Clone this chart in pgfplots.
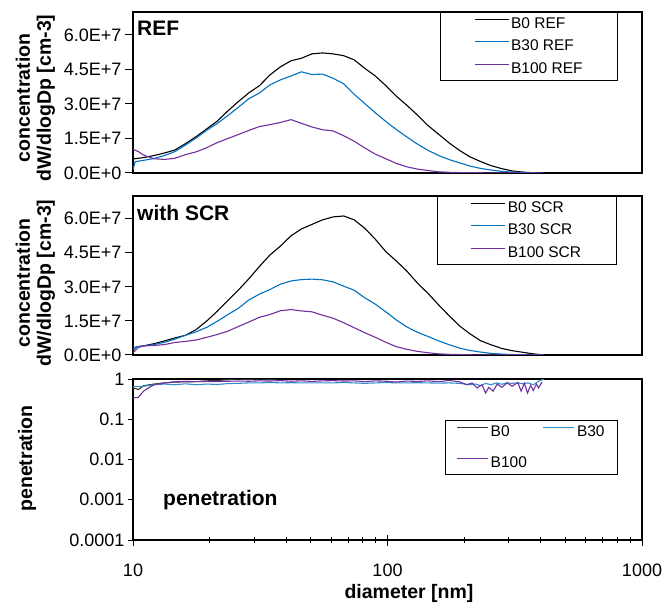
\documentclass[border=0pt]{standalone}
\usepackage{pgfplots}
\pgfplotsset{compat=1.18}
\usepackage{fontspec}
\setmainfont{Liberation Sans}
\definecolor{cB30}{RGB}{0,112,192}
\definecolor{cB100}{RGB}{112,48,160}
\newcommand\tickfont{\fontsize{18}{20}\selectfont}
\newcommand\legfont{\fontsize{15.5}{18}\selectfont}
\newcommand\labfont{\fontsize{19.5}{21}\selectfont\bfseries}
\newcommand\titfont{\fontsize{21}{24}\selectfont\bfseries}
\begin{document}
\begin{tikzpicture}
\path[use as bounding box] (0pt,0pt) rectangle (667pt,603pt);
% ---------------- REF panel
\begin{axis}[scale only axis, width=509pt, height=161pt, anchor=south west, at={(133pt,430pt)},
  xmode=log, xmin=10, xmax=1000, ymin=0, ymax=7e7,
  axis line style={line width=1.1pt},
  tick label style={font=\tickfont}, tick style={black, line width=1pt},
  ytick={0,1.5e7,3e7,4.5e7,6e7}, yticklabels={0.0E+0,1.5E+7,3.0E+7,4.5E+7,6.0E+7},
  scaled y ticks=false, xmajorticks=false, xminorticks=false, yminorticks=false,
  ytick pos=left, tick align=outside, major tick length=8pt,
  legend cell align=left,
  legend style={at={(0.953,1)}, anchor=north east, draw=black, line width=1pt, font=\legfont,
    inner xsep=33pt, inner ysep=2.5pt, row sep=4pt,
    nodes={inner sep=2pt, text height=11.5pt, text depth=3pt}},
  legend image code/.code={\draw[#1] (0pt,5pt) -- (34pt,5pt);}]
\addplot[black, line width=1.1pt] coordinates {(10,0.61e7)(11,0.67e7)(12.1,0.76e7)(13.3,0.87e7)(14.6,1.00e7)(16.1,1.28e7)(17.7,1.58e7)(19.5,1.92e7)(21.4,2.25e7)(23.6,2.70e7)(25.9,3.10e7)(28.5,3.48e7)(31.4,3.80e7)(34.5,4.26e7)(38,4.62e7)(41.8,4.88e7)(45.9,4.99e7)(50.5,5.18e7)(55.6,5.22e7)(61.1,5.18e7)(67.3,5.10e7)(74,4.92e7)(81.4,4.55e7)(89.5,4.22e7)(98.5,3.80e7)(108,3.35e7)(119,2.95e7)(131,2.52e7)(144,2.07e7)(159,1.68e7)(175,1.30e7)(192,0.98e7)(211,0.70e7)(232,0.50e7)(255,0.32e7)(281,0.19e7)(309,0.09e7)(340,0.04e7)(374,0.01e7)(411,0)};
\addlegendentry{B0 REF}
\addplot[cB30, line width=1.1pt] coordinates {(10,0.15e7)(10.2,0.49e7)(11,0.55e7)(12.1,0.63e7)(13.3,0.76e7)(14.6,0.93e7)(16.1,1.22e7)(17.7,1.52e7)(19.5,1.86e7)(21.4,2.15e7)(23.6,2.50e7)(25.9,2.85e7)(28.5,3.23e7)(31.4,3.48e7)(34.5,3.83e7)(38,4.05e7)(41.8,4.22e7)(45.9,4.40e7)(50.5,4.28e7)(55.6,4.30e7)(61.1,4.12e7)(67.3,3.88e7)(74,3.42e7)(81.4,3.02e7)(89.5,2.62e7)(98.5,2.24e7)(108,1.90e7)(119,1.57e7)(131,1.26e7)(144,0.99e7)(159,0.76e7)(175,0.58e7)(192,0.44e7)(211,0.30e7)(232,0.20e7)(255,0.13e7)(281,0.07e7)(309,0.04e7)(340,0.02e7)(374,0.01e7)(400,0)};
\addlegendentry{B30 REF}
\addplot[cB100, line width=1.1pt] coordinates {(10,1.03e7)(10.5,0.93e7)(11,0.78e7)(12.1,0.62e7)(13.3,0.59e7)(14.6,0.64e7)(16.1,0.80e7)(17.7,0.92e7)(19.5,1.10e7)(21.4,1.32e7)(23.6,1.50e7)(25.9,1.67e7)(28.5,1.85e7)(31.4,2.02e7)(34.5,2.10e7)(38,2.20e7)(41.8,2.32e7)(45.9,2.16e7)(50.5,2.00e7)(55.6,1.88e7)(61.1,1.83e7)(67.3,1.62e7)(74,1.38e7)(81.4,1.09e7)(89.5,0.82e7)(98.5,0.62e7)(108,0.42e7)(119,0.27e7)(131,0.17e7)(144,0.11e7)(159,0.05e7)(175,0.03e7)(192,0.02e7)(211,0.01e7)(232,0.01e7)(255,0)(309,0)(411,0)};
\addlegendentry{B100 REF}
\end{axis}
% ---------------- SCR panel
\begin{axis}[scale only axis, width=509pt, height=159pt, anchor=south west, at={(133pt,248pt)},
  xmode=log, xmin=10, xmax=1000, ymin=0, ymax=7e7,
  axis line style={line width=1.1pt},
  tick label style={font=\tickfont}, tick style={black, line width=1pt},
  ytick={0,1.5e7,3e7,4.5e7,6e7}, yticklabels={0.0E+0,1.5E+7,3.0E+7,4.5E+7,6.0E+7},
  scaled y ticks=false, xmajorticks=false, xminorticks=false, yminorticks=false,
  ytick pos=left, tick align=outside, major tick length=8pt,
  legend cell align=left,
  legend style={at={(0.950,1)}, anchor=north east, draw=black, line width=1pt, font=\legfont,
    inner xsep=33pt, inner ysep=2.5pt, row sep=4pt,
    nodes={inner sep=2pt, text height=11.5pt, text depth=3pt}},
  legend image code/.code={\draw[#1] (0pt,5pt) -- (34pt,5pt);}]
\addplot[black, line width=1.1pt] coordinates {(10,0.20e7)(10.3,0.36e7)(11,0.40e7)(12.1,0.50e7)(13.3,0.62e7)(14.6,0.75e7)(16.1,0.87e7)(17.7,1.12e7)(19.5,1.50e7)(21.4,1.92e7)(23.6,2.40e7)(25.9,2.85e7)(28.5,3.35e7)(31.4,3.90e7)(34.5,4.40e7)(38,4.80e7)(41.8,5.25e7)(45.9,5.55e7)(50.5,5.75e7)(55.6,5.95e7)(61.1,6.08e7)(67.3,6.12e7)(74,5.95e7)(81.4,5.58e7)(89.5,5.10e7)(98.5,4.55e7)(108,4.15e7)(119,3.70e7)(131,3.17e7)(144,2.72e7)(159,2.20e7)(175,1.72e7)(192,1.28e7)(211,0.93e7)(232,0.63e7)(255,0.45e7)(281,0.29e7)(309,0.19e7)(340,0.12e7)(374,0.05e7)(411,0)};
\addlegendentry{B0 SCR}
\addplot[cB30, line width=1.1pt] coordinates {(10,0.25e7)(10.3,0.36e7)(11,0.40e7)(12.1,0.46e7)(13.3,0.56e7)(14.6,0.70e7)(16.1,0.87e7)(17.7,1.02e7)(19.5,1.22e7)(21.4,1.48e7)(23.6,1.78e7)(25.9,2.05e7)(28.5,2.42e7)(31.4,2.68e7)(34.5,2.88e7)(38,3.12e7)(41.8,3.26e7)(45.9,3.32e7)(50.5,3.34e7)(55.6,3.31e7)(61.1,3.22e7)(67.3,3.03e7)(74,2.85e7)(81.4,2.52e7)(89.5,2.24e7)(98.5,1.90e7)(108,1.55e7)(119,1.24e7)(131,1.00e7)(144,0.82e7)(159,0.62e7)(175,0.45e7)(192,0.30e7)(211,0.20e7)(232,0.13e7)(255,0.07e7)(281,0.04e7)(309,0.02e7)(340,0.01e7)(374,0)(411,0)};
\addlegendentry{B30 SCR}
\addplot[cB100, line width=1.1pt] coordinates {(10,0.10e7)(10.5,0.33e7)(11,0.40e7)(12.1,0.42e7)(13.3,0.46e7)(14.6,0.55e7)(16.1,0.60e7)(17.7,0.66e7)(19.5,0.78e7)(21.4,0.90e7)(23.6,1.05e7)(25.9,1.25e7)(28.5,1.45e7)(31.4,1.66e7)(34.5,1.78e7)(38,1.95e7)(41.8,2.00e7)(45.9,1.94e7)(50.5,1.90e7)(55.6,1.75e7)(61.1,1.62e7)(67.3,1.42e7)(74,1.20e7)(81.4,0.98e7)(89.5,0.78e7)(98.5,0.56e7)(108,0.37e7)(119,0.25e7)(131,0.16e7)(144,0.10e7)(159,0.05e7)(175,0.03e7)(192,0.02e7)(211,0.01e7)(232,0)(309,0)(411,0)};
\addlegendentry{B100 SCR}
\end{axis}
% ---------------- penetration panel
\begin{axis}[scale only axis, width=509pt, height=161pt, anchor=south west, at={(133pt,63pt)},
  xmode=log, ymode=log, xmin=10, xmax=1000, ymin=1e-4, ymax=1,
  axis line style={line width=1.1pt},
  tick label style={font=\tickfont}, tick style={black, line width=1pt},
  ytick={1e-4,1e-3,1e-2,1e-1,1}, yticklabels={0.0001,0.001,0.01,0.1,1},
  xmajorticks=false, xminorticks=false, yminorticks=false,
  ytick pos=left, tick align=outside, major tick length=5pt,
  legend columns=2, legend cell align=left,
  legend style={at={(0.953,0.745)}, anchor=north east, draw=black, line width=1pt, font=\legfont,
    inner xsep=11pt, inner ysep=2.25pt, row sep=12.5pt,
    nodes={inner sep=2pt, text height=11.5pt, text depth=3pt},
    /tikz/every even column/.append style={column sep=14pt}},
  legend image code/.code={\draw[#1] (0pt,5pt) -- (31pt,5pt);}]
\addplot[black!80, line width=1.1pt] coordinates {(10,0.60)(10.5,0.55)(11,0.68)(12.1,0.75)(13.3,0.80)(14.6,0.84)(16.1,0.85)(17.7,0.86)(19.5,0.90)(21.4,0.92)(23.6,0.96)(25.9,1.0)(28.5,0.97)(31.4,1.01)(34.5,0.98)(38,1.02)(41.8,1.05)(45.9,1.03)(50.5,1.06)(55.6,1.04)(61.1,1.05)(67.3,1.08)(74,1.04)(81.4,1.06)(89.5,1.05)(98.5,1.07)(108,1.04)(119,1.06)(131,1.08)(144,1.05)(159,1.07)(175,1.04)(192,1.06)(211,1.03)(232,1.05)(255,1.02)(281,1.06)(309,1.03)(340,1.05)(374,1.02)(411,1.04)};
\addlegendentry{B0}
\addplot[cB30!80, line width=1.1pt] coordinates {(10,0.65)(11,0.66)(12.1,0.72)(13.3,0.75)(14.6,0.72)(16.1,0.76)(17.7,0.72)(19.5,0.75)(21.4,0.73)(23.6,0.77)(25.9,0.78)(28.5,0.80)(31.4,0.80)(34.5,0.82)(38,0.80)(41.8,0.81)(45.9,0.80)(50.5,0.80)(55.6,0.80)(61.1,0.80)(67.3,0.82)(74,0.80)(81.4,0.78)(89.5,0.80)(98.5,0.82)(108,0.80)(119,0.80)(131,0.81)(144,0.80)(159,0.79)(175,0.80)(192,0.78)(211,0.72)(222,0.75)(232,0.68)(243,0.78)(255,0.72)(268,0.80)(281,0.74)(295,0.80)(309,0.78)(325,0.80)(340,0.76)(357,0.80)(374,0.72)(392,0.88)(411,1.0)};
\addlegendentry{B30}
\addplot[cB100, line width=1.1pt] coordinates {(10,0.34)(10.5,0.35)(11,0.50)(11.5,0.60)(12.1,0.72)(13.3,0.80)(14.6,0.85)(16.1,0.87)(17.7,0.86)(19.5,0.87)(21.4,0.86)(23.6,0.88)(25.9,0.89)(28.5,0.88)(31.4,0.90)(34.5,0.89)(38,0.91)(41.8,0.88)(45.9,0.90)(50.5,0.87)(55.6,0.90)(61.1,0.91)(67.3,0.89)(74,0.90)(81.4,0.86)(89.5,0.90)(98.5,0.88)(108,0.84)(119,0.89)(131,0.87)(144,0.90)(159,0.86)(175,0.92)(192,0.85)(205,0.72)(215,0.80)(225,0.60)(235,0.72)(243,0.45)(250,0.62)(260,0.50)(270,0.75)(281,0.62)(295,0.80)(309,0.66)(325,0.82)(335,0.50)(345,0.78)(355,0.45)(365,0.70)(374,0.52)(385,0.75)(392,0.60)(405,0.85)};
\addlegendentry{B100}
\end{axis}
% x ticks of the penetration panel (centred ticks)
\begin{axis}[scale only axis, width=509pt, height=161pt, anchor=south west, at={(133pt,63pt)},
  xmode=log, ymode=log, xmin=10, xmax=1000, ymin=1e-4, ymax=1,
  axis line style={draw=none},
  tick label style={font=\tickfont}, tick style={black, line width=1pt},
  ymajorticks=false, yminorticks=false,
  xtick={10,100,1000}, xticklabels={10,100,1000}, xtick pos=left,
  tick align=center, major tick length=11pt, minor tick length=6pt,
  xticklabel style={yshift=-15pt}]
\end{axis}
% texts
\node[anchor=west, inner sep=0pt, font=\titfont] at (137pt,575pt) {REF};
\node[anchor=west, inner sep=0pt, font=\titfont] at (137pt,390.5pt) {with SCR};
\node[anchor=west, inner sep=0pt, font=\titfont] at (163pt,102.5pt) {penetration};
\node[rotate=90, align=center, inner sep=0pt, font=\labfont] at (35.5pt,505pt) {concentration\\dW/dlogDp [cm-3]};
\node[rotate=90, align=center, inner sep=0pt, font=\labfont] at (35.5pt,320pt) {concentration\\dW/dlogDp [cm-3]};
\node[rotate=90, inner sep=0pt, font=\labfont] at (27pt,144.5pt) {penetration};
\node[anchor=base, inner sep=0pt, font=\labfont] at (409pt,4.6pt) {diameter [nm]};
\end{tikzpicture}
\end{document}
